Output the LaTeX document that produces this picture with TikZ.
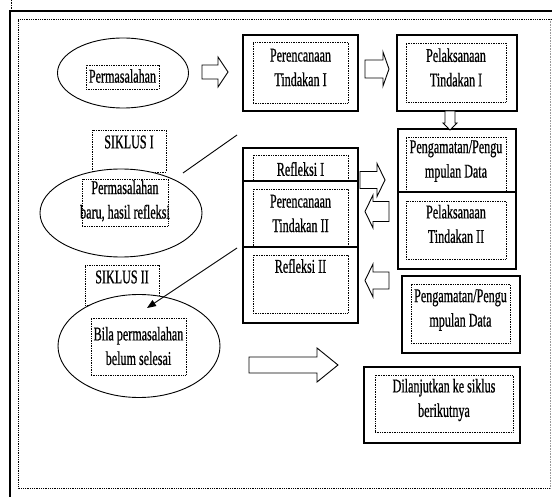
\documentclass[tikz,border=0pt]{standalone}
\usepackage{fontspec}
\setmainfont{Liberation Serif}[FakeStretch=0.62, FakeBold=0.6]
\usetikzlibrary{shapes.geometric,arrows.meta}
\tikzset{
  outerbox/.style={draw, line width=1.1pt, fill=white, inner sep=0pt},
  innerbox/.style={draw, densely dotted, line width=0.7pt, inner sep=0pt},
  ellbox/.style={draw, ellipse, line width=0.9pt, fill=white, inner sep=0pt},
  txt/.style={align=center, inner sep=0pt, font=\fontsize{19.5}{24.5}\selectfont},
  barrow/.style={draw, line width=0.9pt, fill=white, line join=miter},
  conn/.style={draw, line width=0.9pt}
}
\newcommand{\hbarrow}[6]{% tail x, tip x, y, shaft half, head half, head start x
  \draw[barrow] ({#1},{#3-#4}) -- ({#6},{#3-#4}) -- ({#6},{#3-#5}) -- ({#2},{#3})
    -- ({#6},{#3+#5}) -- ({#6},{#3+#4}) -- ({#1},{#3+#4}) -- cycle;}
\newcommand{\vbarrow}[6]{% tail y, tip y, x, shaft half, head half, head start y
  \draw[barrow] ({#3-#4},{#1}) -- ({#3-#4},{#6}) -- ({#3-#5},{#6}) -- ({#3},{#2})
    -- ({#3+#5},{#6}) -- ({#3+#4},{#6}) -- ({#3+#4},{#1}) -- cycle;}
\begin{document}
\begin{tikzpicture}[x=1pt,y=-1pt]
\useasboundingbox (0,0) rectangle (552,497);
% frames
\draw[line width=1.1pt] (10,497) -- (10,11) -- (552,11);
\draw[densely dotted, line width=0.7pt] (11,0) -- (11,10);
\draw[densely dotted, line width=0.8pt] (552,19) -- (18,19) -- (18,488) -- (552,488);
\draw[densely dotted, line width=0.6pt, black!40] (550,19) -- (550,488);

% SIKLUS labels (behind ellipses)
\node[innerbox, fill=white, minimum width=74pt, minimum height=42pt] (s1box) at (129,151) {};
\node[txt] (s1) at (129,142) {SIKLUS I};
\node[innerbox, fill=white, minimum width=74pt, minimum height=40pt] (s2box) at (122,285) {};
\node[txt] (s2) at (122,277) {SIKLUS II};

% ellipses
\node[ellbox, minimum width=131pt, minimum height=70pt] (e1) at (123,73) {};
\node[innerbox, minimum width=73pt, minimum height=24pt] (e1in) at (122.5,77) {};
\node[txt] (e1t) at (122.5,76) {Permasalahan};

\node[ellbox, minimum width=162pt, minimum height=88pt] (e2) at (121,213) {};
\node[innerbox, minimum width=86pt, minimum height=47pt] (e2in) at (125,202.5) {};
\node[txt] (e2t) at (125,201) {Permasalahan\\baru, hasil refleksi};

\node[ellbox, minimum width=162pt, minimum height=103pt] (e3) at (139,346) {};
\node[innerbox, minimum width=95pt, minimum height=57pt] (e3in) at (138.5,346.5) {};
\node[txt] (e3t) at (138.5,346) {Bila permasalahan\\belum selesai};

% top row boxes
\node[outerbox, minimum width=115pt, minimum height=76pt] (pt1) at (300.5,73) {};
\node[innerbox, minimum width=95pt, minimum height=61pt] (pt1in) at (300.5,72.5) {};
\node[txt] (pt1t) at (300.5,67.5) {Perencanaan\\Tindakan I};

\node[outerbox, minimum width=120pt, minimum height=76pt] (pl1) at (457,73) {};
\node[innerbox, minimum width=100pt, minimum height=59pt] (pl1in) at (456,72.5) {};
\node[txt] (pl1t) at (456,67.5) {Pelaksanaan\\Tindakan I};

% right stack
\node[outerbox, minimum width=118pt, minimum height=63pt] (pg1) at (457,160.5) {};
\node[innerbox, minimum width=100pt, minimum height=54pt] (pg1in) at (456,164) {};
\node[txt] (pg1t) at (456,161) {Pengamatan/Pengu\\mpulan Data};
\node[outerbox, minimum width=118pt, minimum height=77pt] (pl2) at (457,230.5) {};
\node[innerbox, minimum width=100pt, minimum height=58pt] (pl2in) at (456,230) {};
\node[txt] (pl2t) at (456,224) {Pelaksanaan\\Tindakan II};

% left stack
\node[outerbox, minimum width=115pt, minimum height=33pt] (r1) at (300.5,164.5) {};
\node[innerbox, minimum width=95pt, minimum height=26pt] (r1in) at (300.5,168) {};
\node[txt] (r1t) at (300.5,169) {Refleksi I};
\node[outerbox, minimum width=115pt, minimum height=66pt] (pt2) at (300.5,214) {};
\node[innerbox, minimum width=95pt, minimum height=58pt] (pt2in) at (300.5,218) {};
\node[txt] (pt2t) at (300.5,213.5) {Perencanaan\\Tindakan II};
\node[outerbox, minimum width=115pt, minimum height=76pt] (r2) at (300.5,285) {};
\node[innerbox, minimum width=95pt, minimum height=58pt] (r2in) at (300.5,284) {};
\node[txt] (r2t) at (300.5,266) {Refleksi II};

% lower right boxes
\node[outerbox, minimum width=118pt, minimum height=77pt] (pg2) at (461,314.5) {};
\node[innerbox, minimum width=99pt, minimum height=59pt] (pg2in) at (460.5,313.5) {};
\node[txt] (pg2t) at (460.5,310) {Pengamatan/Pengu\\mpulan Data};

\node[outerbox, minimum width=156pt, minimum height=76pt] (dl) at (442,405) {};
\node[innerbox, minimum width=138pt, minimum height=57pt] (dlin) at (444,403.5) {};
\node[txt] (dlt) at (444,400) {Dilanjutkan ke siklus\\berikutnya};

% block arrows
\hbarrow{202}{228}{72}{7}{15}{218}
\hbarrow{365}{389}{69}{9}{17}{383}
\vbarrow{111}{130}{450}{5}{7}{123}
\hbarrow{360}{385}{180}{8.5}{16.5}{377}
\hbarrow{389}{365}{211.5}{10}{16.5}{373}
\hbarrow{389}{365}{280.5}{8.5}{16.5}{373}
\hbarrow{249}{338}{365}{8}{17}{317}

% connectors
\coordinate (c1a) at (183,173);
\coordinate (c1b) at (237,135);
\draw[conn] (c1a) -- (c1b);
\coordinate (c2a) at (237,248);
\coordinate (c2b) at (147,308);
\draw[conn, -{Triangle[length=9pt,width=7pt]}] (c2a) -- (c2b);
\end{tikzpicture}
\end{document}
